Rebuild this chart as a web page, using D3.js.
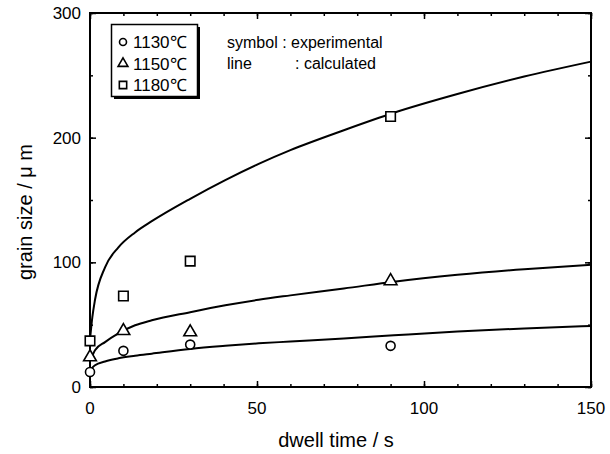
<!DOCTYPE html>
<html>
<head>
<meta charset="utf-8">
<script src="https://cdn.jsdelivr.net/npm/d3@7"></script>
<style>
body { margin: 0; background: #fff; }
text { font-family: "Liberation Sans", Arial, sans-serif; fill: #000; }
</style>
</head>
<body>
<svg id="chart" width="610" height="454"></svg>
<script>
"use strict";

// experimental points
var expTime = [0, 10, 30, 90];
var exp1130 = [12, 29, 34, 33];
var exp1150 = [24, 45, 44, 85];
var exp1180 = [37, 73, 101, 217];

// calculated lines
var calcTime = [0, 0.7, 1.5, 4.5, 8.5, 13.5, 18.5, 30, 40.5, 50.5, 60, 76, 91, 110, 130, 150];
var calc1130 = [13, 15.5, 17.5, 20.5, 23, 25, 26.7, 30.5, 33, 35, 36.5, 39, 41.5, 44.5, 47, 49];
var calc1150 = [21, 25, 29.5, 36, 43, 49.5, 53.5, 60, 65.5, 70, 73.5, 79, 84.5, 90, 94.5, 98];
var calc1180 = [38, 56, 70, 96, 112, 124, 133, 151, 166, 179, 190, 206, 220, 235, 249, 261];

var legendLabels = ["1130\u2103", "1150\u2103", "1180\u2103"];
var xTicks = [0, 50, 100, 150];
var yTicks = [0, 100, 200, 300];

var svg = d3.select("#chart");
var plotLeft = 90, plotRight = 591, plotTop = 13, plotBottom = 387;

var x = d3.scaleLinear().domain([0, 150]).range([plotLeft, plotRight]);
var y = d3.scaleLinear().domain([0, 300]).range([plotBottom, plotTop]);

// frame with inward ticks on all four sides
function tickSide(axis, pos, major, minor) {
	var g = svg.append("g").attr("transform", pos);
	g.call(axis.tickValues(minor).tickSize(-3).tickFormat(""));
	g.selectAll("path").remove();
	var g2 = svg.append("g").attr("transform", pos);
	g2.call(axis.tickValues(major).tickSize(-6).tickFormat(""));
	g2.selectAll("path").remove();
	svg.selectAll(".tick line").attr("stroke", "#000").attr("stroke-width", 1.5);
}
var xMinor = d3.range(0, 151, 10);
var yMinor = d3.range(0, 301, 50);
tickSide(d3.axisBottom(x), "translate(0," + plotBottom + ")", xTicks, xMinor);
tickSide(d3.axisTop(x), "translate(0," + plotTop + ")", xTicks, xMinor);
tickSide(d3.axisLeft(y), "translate(" + plotLeft + ",0)", yTicks, yMinor);
tickSide(d3.axisRight(y), "translate(" + plotRight + ",0)", yTicks, yMinor);

svg.append("rect")
	.attr("x", plotLeft).attr("y", plotTop)
	.attr("width", plotRight - plotLeft).attr("height", plotBottom - plotTop)
	.attr("fill", "none").attr("stroke", "#000").attr("stroke-width", 2);

// tick labels
svg.selectAll(".xlab").data(xTicks).enter().append("text")
	.attr("x", function(d) { return x(d); })
	.attr("y", 414)
	.attr("text-anchor", "middle")
	.style("font-size", "17px")
	.text(function(d) { return d; });

svg.selectAll(".ylab").data(yTicks).enter().append("text")
	.attr("x", 81)
	.attr("y", function(d) { return y(d) + 6; })
	.attr("text-anchor", "end")
	.style("font-size", "17px")
	.text(function(d) { return d; });

svg.append("text")
	.attr("x", 336).attr("y", 447)
	.attr("text-anchor", "middle")
	.style("font-size", "20px")
	.text("dwell time / s");

svg.append("text")
	.attr("transform", "translate(32,212) rotate(-90)")
	.attr("text-anchor", "middle")
	.style("font-size", "20px")
	.text("grain size / \u03bc m");

// calculated curves
var line = d3.line()
	.x(function(d) { return x(d[0]); })
	.y(function(d) { return y(d[1]); })
	.curve(d3.curveMonotoneX);

[calc1130, calc1150, calc1180].forEach(function(vals) {
	svg.append("path")
		.datum(d3.zip(calcTime, vals))
		.attr("d", line)
		.attr("fill", "none")
		.attr("stroke", "#000")
		.attr("stroke-width", 2);
});

// markers
var symbols = [d3.symbolCircle, d3.symbolTriangle, d3.symbolSquare];
var sizes = [64, 70, 90];
function marker(g, i, cx, cy, scale) {
	g.append("path")
		.attr("d", d3.symbol().type(symbols[i]).size(sizes[i] * scale)())
		.attr("transform", "translate(" + cx + "," + cy + ")")
		.attr("fill", "#fff")
		.attr("stroke", "#000")
		.attr("stroke-width", 1.6);
}

[exp1130, exp1150, exp1180].forEach(function(vals, i) {
	vals.forEach(function(v, j) {
		marker(svg, i, x(expTime[j]), y(v), 1);
	});
});

// legend box with shadow
svg.append("rect")
	.attr("x", 114).attr("y", 27).attr("width", 86).attr("height", 72)
	.attr("fill", "#000");
svg.append("rect")
	.attr("x", 111.5).attr("y", 24.5).attr("width", 86).attr("height", 72)
	.attr("fill", "#fff").attr("stroke", "#000").attr("stroke-width", 1.5);

legendLabels.forEach(function(lab, i) {
	var cy = 42 + i * 21.5;
	marker(svg, i, 123, cy, 0.6);
	svg.append("text")
		.attr("x", 133).attr("y", cy + 6)
		.style("font-size", "17px")
		.text(lab);
});

svg.append("text").attr("x", 227).attr("y", 48).style("font-size", "16px").text("symbol : experimental");
svg.append("text").attr("x", 227).attr("y", 69).style("font-size", "16px").text("line");
svg.append("text").attr("x", 295).attr("y", 69).style("font-size", "16px").text(": calculated");
</script>
</body>
</html>
